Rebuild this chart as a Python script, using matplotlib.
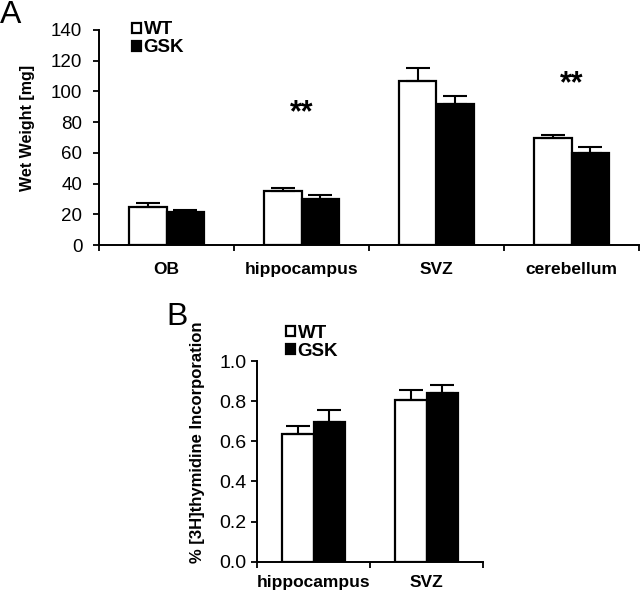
import matplotlib.pyplot as plt
import numpy as np

plt.rcParams['font.family'] = ['Liberation Sans', 'DejaVu Sans']

# Panel A data
regions_a = ['OB', 'hippocampus', 'SVZ', 'cerebellum']
wt_a = [25, 35, 107, 70]
wt_a_err = [2.5, 2, 8, 1.5]
gsk_a = [21.5, 30, 91.5, 60]
gsk_a_err = [1.5, 2.5, 5.5, 3.5]
stars_a = ['', '**', '', '**']
star_y_a = [0, 86, 0, 105]

# Panel B data
regions_b = ['hippocampus', 'SVZ']
wt_b = [0.635, 0.805]
wt_b_err = [0.043, 0.05]
gsk_b = [0.695, 0.84]
gsk_b_err = [0.06, 0.04]

width = 0.28
fig = plt.figure(figsize=(6.4, 5.92), dpi=100)


def draw_panel(ax, cats, wt, wt_err, gsk, gsk_err, tick_pad, xlab_pad, fs, xfs):
    x = np.arange(len(cats))
    ekw = dict(ecolor='black', elinewidth=1.5, capsize=8.5, capthick=1.5)
    ax.bar(x - width / 2, wt, width, color='white', edgecolor='black', linewidth=1.6,
           yerr=[np.zeros(len(wt)), wt_err], error_kw=ekw, label='WT', zorder=3)
    ax.bar(x + width / 2, gsk, width, color='black', edgecolor='black', linewidth=1.6,
           yerr=[np.zeros(len(gsk)), gsk_err], error_kw=ekw, label='GSK', zorder=3)
    ax.set_xlim(-0.5, len(cats) - 0.5)
    ax.set_xticks(np.arange(len(cats) + 1) - 0.5)
    ax.set_xticklabels([])
    ax.set_xticks(x, minor=True)
    ax.set_xticklabels(cats, minor=True, fontweight='bold', fontsize=xfs)
    ax.tick_params(axis='x', which='minor', length=0, pad=xlab_pad)
    ax.tick_params(axis='x', which='major', length=4, width=1.3, direction='out')
    ax.tick_params(axis='y', length=4, width=1.3, direction='out', labelsize=fs, pad=tick_pad)
    for s in ['top', 'right']:
        ax.spines[s].set_visible(False)
    for s in ['left', 'bottom']:
        ax.spines[s].set_linewidth(1.4)


# Panel A
ax1 = fig.add_axes([99 / 640, 1 - 245 / 592, 540 / 640, 215 / 592])
draw_panel(ax1, regions_a, wt_a, wt_a_err, gsk_a, gsk_a_err, 8, 12, 13.5, 12.5)
ax1.set_ylim(0, 140)
ax1.set_yticks(np.arange(0, 141, 20))
ax1.set_ylabel('Wet Weight [mg]', fontweight='bold', fontsize=11.5)
ax1.yaxis.set_label_coords(-0.118, 0.544)
for i, s in enumerate(stars_a):
    if s:
        ax1.text(i, star_y_a[i], s, ha='center', va='center', fontsize=22, fontweight='bold')
ax1.legend(loc='upper left', bbox_to_anchor=(0.062, 1.04), frameon=False, borderpad=0,
           borderaxespad=0, handlelength=0.45, handleheight=0.45, handletextpad=0.15,
           labelspacing=0.05, prop={'weight': 'bold', 'size': 13.5})
fig.text(0.0, 1.0, 'A', fontsize=23, ha='left', va='top')

# Panel B
ax2 = fig.add_axes([257 / 640, 1 - 561.7 / 592, 226 / 640, 200.7 / 592])
draw_panel(ax2, regions_b, wt_b, wt_b_err, gsk_b, gsk_b_err, 3.5, 9.5, 14, 12.5)
ax2.set_ylim(0, 1.0)
ax2.set_yticks(np.arange(0, 1.01, 0.2))
ax2.set_yticklabels(['%.1f' % v for v in np.arange(0, 1.01, 0.2)])
ax2.set_ylabel('% [3H]thymidine Incorporation', fontweight='bold', fontsize=12)
ax2.yaxis.set_label_coords(-0.228, 0.596)
ax2.legend(loc='upper left', bbox_to_anchor=(0.13, 1.18), frameon=False, borderpad=0,
           borderaxespad=0, handlelength=0.45, handleheight=0.45, handletextpad=0.15,
           labelspacing=0.05, prop={'weight': 'bold', 'size': 13.5})
fig.text(166 / 640, 1 - 302 / 592, 'B', fontsize=23, ha='left', va='top')

plt.savefig('out.png', dpi=100)
